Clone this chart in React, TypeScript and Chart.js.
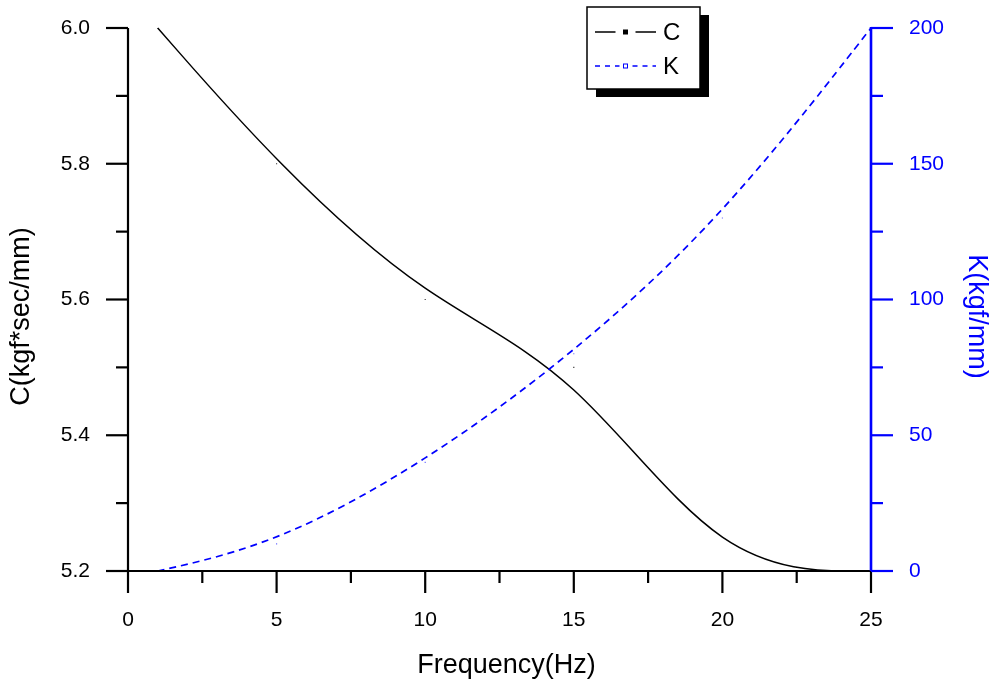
import { useEffect, useRef } from "react";
import { Chart, registerables } from "chart.js";

Chart.register(...registerables);

const FREQ = [1, 5, 10, 15, 20, 25];
const C_VALUES = [6.0, 5.8, 5.6, 5.5, 5.2, 5.2];
const K_VALUES = [0, 10, 40, 80, 130, 200];

const X_TICKS = [0, 5, 10, 15, 20, 25];
const X_MINOR = [2.5, 7.5, 12.5, 17.5, 22.5];
const C_TICKS = [5.2, 5.4, 5.6, 5.8, 6.0];
const C_MINOR = [5.3, 5.5, 5.7, 5.9];
const K_TICKS = [0, 50, 100, 150, 200];
const K_MINOR = [25, 75, 125, 175];

const SERIES_NAMES = ["C", "K"];
const X_TITLE = "Frequency(Hz)";
const C_TITLE = "C(kgf*sec/mm)";
const K_TITLE = "K(kgf/mm)";

const FONT = "'Liberation Sans', Arial, sans-serif";
const BLUE = "#0000ff";

const bsplinePlugin = {
  id: "bspline",
  afterDatasetsDraw(chart: any) {
    const ctx = chart.ctx;
    chart.data.datasets.forEach((ds: any, i: number) => {
      const meta = chart.getDatasetMeta(i);
      const p = meta.data.map((e: any) => ({ x: e.x, y: e.y }));
      if (p.length < 2) return;
      const f = p[0];
      const l = p[p.length - 1];
      const q = [f, f, ...p, l, l];
      ctx.save();
      ctx.strokeStyle = ds.curveColor;
      ctx.lineWidth = ds.curveWidth;
      ctx.setLineDash(ds.curveDash);
      ctx.beginPath();
      for (let s = 0; s + 3 < q.length; s++) {
        const a = q[s], b = q[s + 1], c = q[s + 2], d = q[s + 3];
        const b0x = (a.x + 4 * b.x + c.x) / 6, b0y = (a.y + 4 * b.y + c.y) / 6;
        const b1x = (2 * b.x + c.x) / 3, b1y = (2 * b.y + c.y) / 3;
        const b2x = (b.x + 2 * c.x) / 3, b2y = (b.y + 2 * c.y) / 3;
        const b3x = (b.x + 4 * c.x + d.x) / 6, b3y = (b.y + 4 * c.y + d.y) / 6;
        if (s === 0) ctx.moveTo(b0x, b0y);
        ctx.bezierCurveTo(b1x, b1y, b2x, b2y, b3x, b3y);
      }
      ctx.stroke();
      ctx.restore();
    });
  },
};

const axesPlugin = {
  id: "axesDraw",
  afterDraw(chart: any) {
    const { ctx, chartArea, scales } = chart;
    const { left, right, top, bottom } = chartArea;
    const line = (x1: number, y1: number, x2: number, y2: number) => {
      ctx.beginPath();
      ctx.moveTo(x1, y1);
      ctx.lineTo(x2, y2);
      ctx.stroke();
    };
    ctx.save();
    ctx.lineWidth = 2.2;
    ctx.lineCap = "butt";
    ctx.strokeStyle = "#000";
    line(left, top, left, bottom + 1);
    C_TICKS.forEach((v) => {
      const y = scales.y.getPixelForValue(v);
      line(left - 22, y, left, y);
    });
    C_MINOR.forEach((v) => {
      const y = scales.y.getPixelForValue(v);
      line(left - 12, y, left, y);
    });
    line(left - 1, bottom, right, bottom);
    X_TICKS.forEach((v) => {
      const x = scales.x.getPixelForValue(v);
      line(x, bottom, x, bottom + 22);
    });
    X_MINOR.forEach((v) => {
      const x = scales.x.getPixelForValue(v);
      line(x, bottom, x, bottom + 12);
    });
    ctx.strokeStyle = BLUE;
    ctx.lineWidth = 2.6;
    line(right, top - 1, right, bottom);
    ctx.lineWidth = 2.2;
    K_TICKS.forEach((v) => {
      const y = scales.y1.getPixelForValue(v);
      line(right, y, right + 22, y);
    });
    K_MINOR.forEach((v) => {
      const y = scales.y1.getPixelForValue(v);
      line(right, y, right + 12, y);
    });

    // axis titles
    ctx.font = `27px ${FONT}`;
    ctx.textAlign = "center";
    ctx.textBaseline = "middle";
    const midY = (top + bottom) / 2 + 17;
    ctx.fillStyle = "#000";
    ctx.fillText(X_TITLE, (left + right) / 2 + 7, bottom + 95);
    ctx.save();
    ctx.translate(22, midY);
    ctx.rotate(-Math.PI / 2);
    ctx.fillText(C_TITLE, 0, 0);
    ctx.restore();
    ctx.save();
    ctx.fillStyle = BLUE;
    ctx.translate(right + 105, midY);
    ctx.rotate(Math.PI / 2);
    ctx.fillText(K_TITLE, 0, 0);
    ctx.restore();
    ctx.restore();
  },
};

const legendPlugin = {
  id: "boxLegend",
  afterDraw(chart: any) {
    const { ctx, chartArea } = chart;
    const bx = chartArea.left + 459;
    const by = chartArea.top - 21;
    const bw = 113;
    const bh = 82;
    ctx.save();
    ctx.fillStyle = "#000";
    ctx.fillRect(bx + 9, by + 8, bw, bh);
    ctx.fillStyle = "#fff";
    ctx.fillRect(bx, by, bw, bh);
    ctx.strokeStyle = "#000";
    ctx.lineWidth = 1.5;
    ctx.strokeRect(bx, by, bw, bh);

    const ds = chart.data.datasets;
    const rows = [by + 25, by + 59];
    ds.forEach((d: any, i: number) => {
      const y = rows[i];
      const x0 = bx + 8;
      const x1 = bx + 69;
      const mx = (x0 + x1) / 2;
      ctx.strokeStyle = d.curveColor;
      ctx.lineWidth = 1.6;
      if (i === 0) {
        ctx.setLineDash([]);
        ctx.beginPath();
        ctx.moveTo(x0, y);
        ctx.lineTo(mx - 10, y);
        ctx.moveTo(mx + 10, y);
        ctx.lineTo(x1, y);
        ctx.stroke();
        ctx.fillStyle = d.curveColor;
        ctx.fillRect(mx - 2.5, y - 2.5, 5, 5);
      } else {
        ctx.setLineDash([5, 5]);
        ctx.beginPath();
        ctx.moveTo(x0, y);
        ctx.lineTo(mx - 6, y);
        ctx.moveTo(mx + 7, y);
        ctx.lineTo(x1, y);
        ctx.stroke();
        ctx.setLineDash([]);
        ctx.lineWidth = 1;
        ctx.strokeRect(mx - 2, y - 2, 4, 4);
      }
      ctx.fillStyle = "#000";
      ctx.font = `24px ${FONT}`;
      ctx.textBaseline = "middle";
      ctx.textAlign = "left";
      ctx.fillText(d.label, x1 + 7, y + 1);
    });
    ctx.restore();
  },
};

export default function App() {
  const ref = useRef<HTMLCanvasElement | null>(null);

  useEffect(() => {
    if (!ref.current) return;
    Chart.defaults.font.family = FONT;
    const fitV = (w: number) => (s: any) => {
      s.width = w;
      s.paddingTop = 0;
      s.paddingBottom = 0;
    };
    const chart = new Chart(ref.current, {
      type: "scatter",
      data: {
        datasets: [
          {
            label: SERIES_NAMES[0],
            data: FREQ.map((x, i) => ({ x, y: C_VALUES[i] })),
            yAxisID: "y",
            showLine: false,
            pointRadius: 0.8,
            pointStyle: "rect",
            pointBorderWidth: 0,
            backgroundColor: "#333",
            borderColor: "#333",
            curveColor: "#000",
            curveWidth: 1.5,
            curveDash: [],
          } as any,
          {
            label: SERIES_NAMES[1],
            data: FREQ.map((x, i) => ({ x, y: K_VALUES[i] })),
            yAxisID: "y1",
            showLine: false,
            pointRadius: 0.8,
            pointStyle: "rect",
            pointBorderWidth: 0,
            backgroundColor: "#6666ff",
            borderColor: "#6666ff",
            curveColor: BLUE,
            curveWidth: 1.7,
            curveDash: [7, 5],
          } as any,
        ],
      },
      options: {
        animation: false,
        responsive: false,
        layout: { padding: { top: 28, left: 0, right: 0, bottom: 0 } },
        plugins: { legend: { display: false }, tooltip: { enabled: false } },
        scales: {
          x: {
            type: "linear",
            min: 0,
            max: 25,
            afterBuildTicks: (s: any) => {
              s.ticks = X_TICKS.map((v) => ({ value: v }));
            },
            afterFit: (s: any) => {
              s.height = 118;
              s.paddingLeft = 0;
              s.paddingRight = 0;
            },
            grid: { display: false, drawTicks: false },
            border: { display: false },
            ticks: {
              color: "#000",
              font: { size: 21 },
              padding: 37,
              maxRotation: 0,
              autoSkip: false,
              callback: (v: any) => String(v),
            },
            title: { display: false },
          },
          y: {
            type: "linear",
            position: "left",
            min: 5.2,
            max: 6.0,
            afterBuildTicks: (s: any) => {
              s.ticks = C_TICKS.map((v) => ({ value: v }));
            },
            afterFit: fitV(128),
            grid: { display: false, drawTicks: false },
            border: { display: false },
            ticks: {
              color: "#000",
              font: { size: 21 },
              padding: 38,
              autoSkip: false,
              callback: (v: any) => Number(v).toFixed(1),
            },
            title: { display: false },
          },
          y1: {
            type: "linear",
            position: "right",
            min: 0,
            max: 200,
            afterBuildTicks: (s: any) => {
              s.ticks = K_TICKS.map((v) => ({ value: v }));
            },
            afterFit: fitV(124),
            grid: { display: false, drawTicks: false },
            border: { display: false },
            ticks: {
              color: BLUE,
              font: { size: 21 },
              padding: 38,
              autoSkip: false,
              callback: (v: any) => String(v),
            },
            title: { display: false },
          },
        },
      } as any,
      plugins: [bsplinePlugin, axesPlugin, legendPlugin],
    });
    return () => chart.destroy();
  }, []);

  return (
    <div style={{ position: "absolute", left: 0, top: 0, width: 995, height: 689, background: "#fff" }}>
      <canvas ref={ref} width={995} height={689} style={{ display: "block" }} />
    </div>
  );
}
